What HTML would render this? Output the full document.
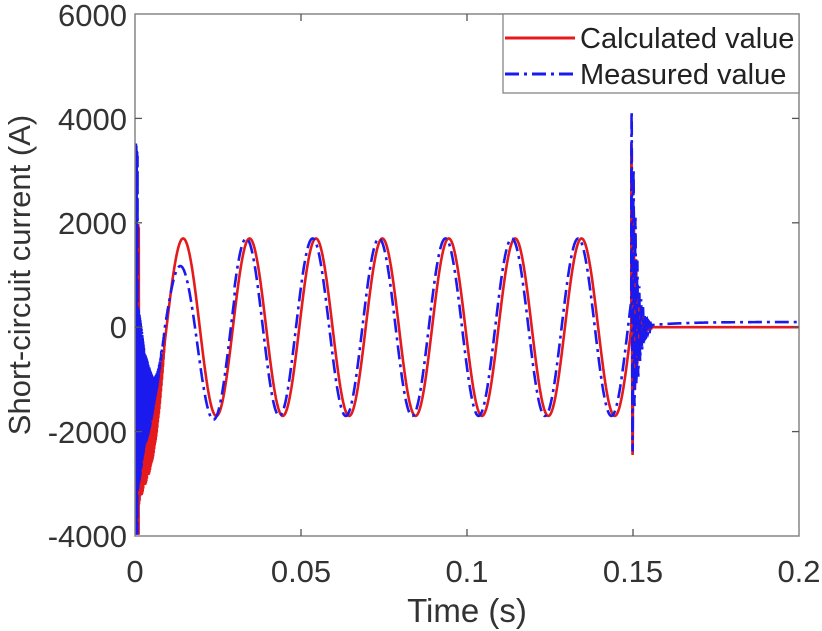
<!DOCTYPE html>
<html><head><meta charset="utf-8"><style>
body{margin:0;background:#fff;}
svg{display:block;font-family:"Liberation Sans",Arial,sans-serif;}
</style></head><body>
<svg id="s" width="822" height="631" viewBox="0 0 822 631" xmlns="http://www.w3.org/2000/svg">
<defs><clipPath id="c"><rect x="135" y="14" width="664" height="522"/></clipPath></defs>
<rect width="822" height="631" fill="#fff"/>
<g id="curves" clip-path="url(#c)"></g>
<rect x="135" y="14" width="664" height="522" fill="none" stroke="#858585" stroke-width="1.5"/>
<g stroke="#555" stroke-width="1.3">
<line x1="301" y1="536" x2="301" y2="529"/><line x1="467" y1="536" x2="467" y2="529"/><line x1="633" y1="536" x2="633" y2="529"/>
<line x1="301" y1="14" x2="301" y2="21"/><line x1="467" y1="14" x2="467" y2="21"/><line x1="633" y1="14" x2="633" y2="21"/>
<line x1="135" y1="118.4" x2="142" y2="118.4"/><line x1="135" y1="222.8" x2="142" y2="222.8"/><line x1="135" y1="327.2" x2="142" y2="327.2"/><line x1="135" y1="431.6" x2="142" y2="431.6"/>
<line x1="799" y1="118.4" x2="792" y2="118.4"/><line x1="799" y1="222.8" x2="792" y2="222.8"/><line x1="799" y1="327.2" x2="792" y2="327.2"/><line x1="799" y1="431.6" x2="792" y2="431.6"/>
</g>
<g fill="#333" font-size="31" text-anchor="end">
<text x="127" y="26">6000</text><text x="127" y="130">4000</text><text x="127" y="234">2000</text><text x="127" y="338">0</text><text x="127" y="443">-2000</text><text x="127" y="547">-4000</text>
</g>
<g fill="#333" font-size="31" text-anchor="middle">
<text x="135" y="582">0</text><text x="301" y="582">0.05</text><text x="467" y="582">0.1</text><text x="633" y="582">0.15</text><text x="799" y="582">0.2</text>
<text x="467" y="622" font-size="33">Time (s)</text>
<text transform="translate(30,275) rotate(-90)" font-size="31">Short-circuit current (A)</text>
</g>
<rect x="503" y="14" width="296" height="79" fill="#fff" stroke="#858585" stroke-width="1.3"/>
<line x1="505" y1="38" x2="575" y2="38" stroke="#e41a1c" stroke-width="3"/>
<line x1="505" y1="74" x2="575" y2="74" stroke="#1a1aee" stroke-width="3" stroke-dasharray="14,5,3,5"/>
<g fill="#222" font-size="29"><text x="580" y="48">Calculated value</text><text x="580" y="84">Measured value</text></g>
</svg>
<script>
function X(t){return 135+t*3320;}
function Y(v){v=Math.max(-3950,Math.min(4400,v));return 327.2-v*0.0522;}
function calc(t){
 if(t>0.1555) return 0;
 var s=1700*Math.cos(2*Math.PI*50*(t-0.0145));
 if(t<0.009){var a=(1-t/0.009);var base=-1100*(1-Math.min(1,t/0.009))+s*Math.min(1,t/0.009);
  return base-900*a+1800*a*Math.sin(t*40000)*(t<0.0012?2.4:1);}
 if(t>0.1495){var d=t-0.1495;var s2=s*Math.max(0,1-d/0.002);return s2+3600*Math.exp(-d/0.0012)*Math.sin(d*9000+1.2);}
 return s;
}
function meas(t){
 if(t>0.1555) return 100-60*Math.exp(-(t-0.1555)/0.01);
 var amp=t<0.03?1300+400*Math.min(1,(t-0.01)/0.02):1700;
 var s=amp*Math.cos(2*Math.PI*50*(t-0.0135))-(t<0.03?200:0);
 if(t<0.009){var a=(1-t/0.009);var base=-1400*a+s*(1-a);
  return base+2200*a*a*Math.sin(t*52000)*(t<0.0008?2.6:1);}
 if(t>0.1495){var d=t-0.1495;var s2=s*Math.max(0,1-d/0.002);return s2+3800*Math.exp(-d/0.0015)*Math.sin(d*11000+0.6);}
 return s;
}
function path(f){var p="";for(var t=0;t<=0.2;t+=0.00002){p+=(p?"L":"M")+X(t).toFixed(2)+","+Y(f(t)).toFixed(2);}return p;}
var g=document.getElementById("curves");
g.innerHTML='<path d="'+path(calc)+'" fill="none" stroke="#e41a1c" stroke-width="2.6"/>'+
'<path d="'+path(meas)+'" fill="none" stroke="#1a1aee" stroke-width="2.6" stroke-dasharray="14,5,3,5"/>';
</script>
</body></html>
